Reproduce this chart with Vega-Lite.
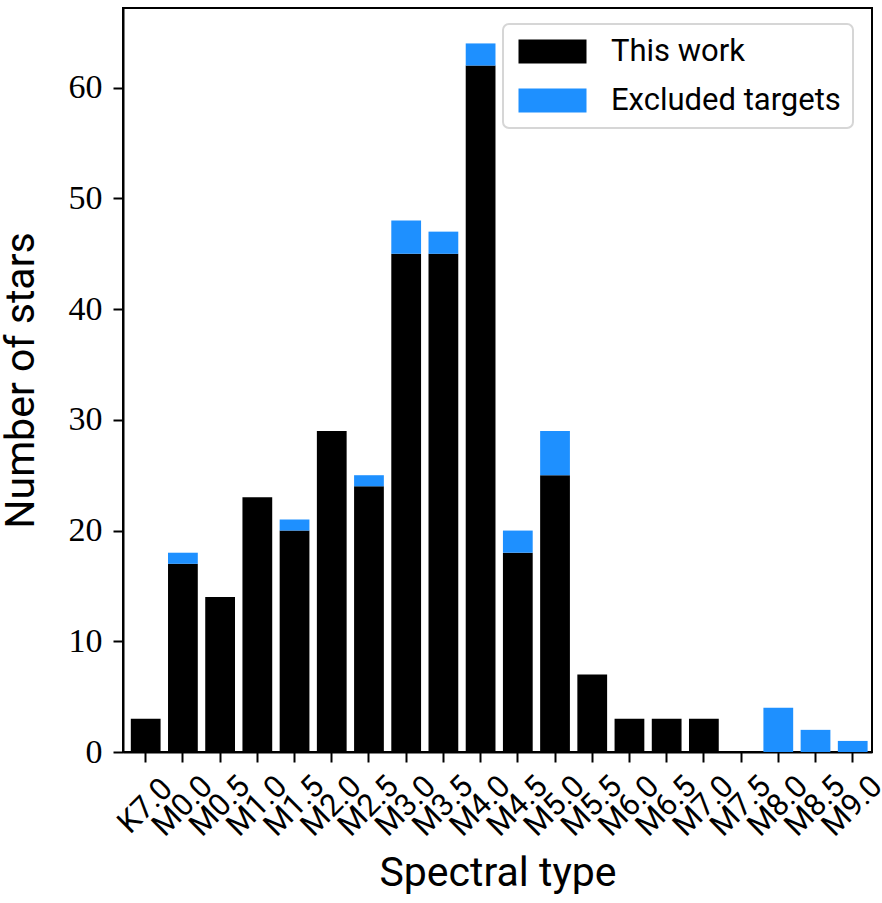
{
  "$schema": "https://vega.github.io/schema/vega-lite/v6.json",
  "width": 749,
  "height": 744,
  "autosize": {"type": "none"},
  "padding": {"left": 123, "top": 8, "right": 10, "bottom": 151},
  "background": "white",
  "config": {
    "view": {"stroke": "black", "strokeWidth": 2},
    "axis": {"grid": false, "domainColor": "black", "domainWidth": 2, "tickColor": "black", "tickWidth": 2, "tickSize": 10, "labelColor": "black", "titleColor": "black", "titleFont": "Roboto", "titleFontWeight": "normal", "titleFontSize": 41}
  },
  "data": {
    "values": [
      {"type": "K7.0", "series": "This work", "count": 3},
      {"type": "M0.0", "series": "This work", "count": 17},
      {"type": "M0.5", "series": "This work", "count": 14},
      {"type": "M1.0", "series": "This work", "count": 23},
      {"type": "M1.5", "series": "This work", "count": 20},
      {"type": "M2.0", "series": "This work", "count": 29},
      {"type": "M2.5", "series": "This work", "count": 24},
      {"type": "M3.0", "series": "This work", "count": 45},
      {"type": "M3.5", "series": "This work", "count": 45},
      {"type": "M4.0", "series": "This work", "count": 62},
      {"type": "M4.5", "series": "This work", "count": 18},
      {"type": "M5.0", "series": "This work", "count": 25},
      {"type": "M5.5", "series": "This work", "count": 7},
      {"type": "M6.0", "series": "This work", "count": 3},
      {"type": "M6.5", "series": "This work", "count": 3},
      {"type": "M7.0", "series": "This work", "count": 3},
      {"type": "M7.5", "series": "This work", "count": 0},
      {"type": "M8.0", "series": "This work", "count": 0},
      {"type": "M8.5", "series": "This work", "count": 0},
      {"type": "M9.0", "series": "This work", "count": 0},
      {"type": "K7.0", "series": "Excluded targets", "count": 0},
      {"type": "M0.0", "series": "Excluded targets", "count": 1},
      {"type": "M0.5", "series": "Excluded targets", "count": 0},
      {"type": "M1.0", "series": "Excluded targets", "count": 0},
      {"type": "M1.5", "series": "Excluded targets", "count": 1},
      {"type": "M2.0", "series": "Excluded targets", "count": 0},
      {"type": "M2.5", "series": "Excluded targets", "count": 1},
      {"type": "M3.0", "series": "Excluded targets", "count": 3},
      {"type": "M3.5", "series": "Excluded targets", "count": 2},
      {"type": "M4.0", "series": "Excluded targets", "count": 2},
      {"type": "M4.5", "series": "Excluded targets", "count": 2},
      {"type": "M5.0", "series": "Excluded targets", "count": 4},
      {"type": "M5.5", "series": "Excluded targets", "count": 0},
      {"type": "M6.0", "series": "Excluded targets", "count": 0},
      {"type": "M6.5", "series": "Excluded targets", "count": 0},
      {"type": "M7.0", "series": "Excluded targets", "count": 0},
      {"type": "M7.5", "series": "Excluded targets", "count": 0},
      {"type": "M8.0", "series": "Excluded targets", "count": 4},
      {"type": "M8.5", "series": "Excluded targets", "count": 2},
      {"type": "M9.0", "series": "Excluded targets", "count": 1}
    ]
  },
  "mark": {"type": "bar", "strokeWidth": 0},
  "encoding": {
    "x": {
      "field": "type", "type": "nominal", "sort": null,
      "scale": {"paddingInner": 0.2, "paddingOuter": 0.164, "align": 0.64},
      "axis": {"title": "Spectral type", "labelAngle": -45, "labelAlign": "center", "labelBaseline": "middle", "labelPadding": 44, "labelFont": "Roboto", "labelFontSize": 31, "titlePadding": 12}
    },
    "y": {
      "field": "count", "type": "quantitative", "stack": "zero",
      "scale": {"domain": [0, 67.2], "nice": false, "zero": true},
      "axis": {"title": "Number of stars", "values": [0, 10, 20, 30, 40, 50, 60], "labelFont": "Liberation Serif", "labelFontSize": 34, "labelPadding": 11, "titlePadding": 26}
    },
    "color": {
      "field": "series", "type": "nominal",
      "scale": {"domain": ["This work", "Excluded targets"], "range": ["#000000", "#1e90ff"]},
      "legend": {
        "title": null, "orient": "none", "legendX": 380, "legendY": 16,
        "symbolType": "M-1,-1L4.667,-1L4.667,1L-1,1Z", "symbolSize": 576, "symbolStrokeWidth": 0, "symbolOpacity": 1,
        "labelFont": "Roboto", "labelFontSize": 31, "labelColor": "black", "labelOffset": 65, "labelLimit": 400,
        "rowPadding": 17, "padding": 12, "strokeColor": "#d6d6d6", "cornerRadius": 6, "fillColor": "white",
        "encode": {"legend": {"update": {"strokeWidth": {"value": 2}}}}
      }
    },
    "order": {"field": "series", "sort": "descending"}
  }
}
